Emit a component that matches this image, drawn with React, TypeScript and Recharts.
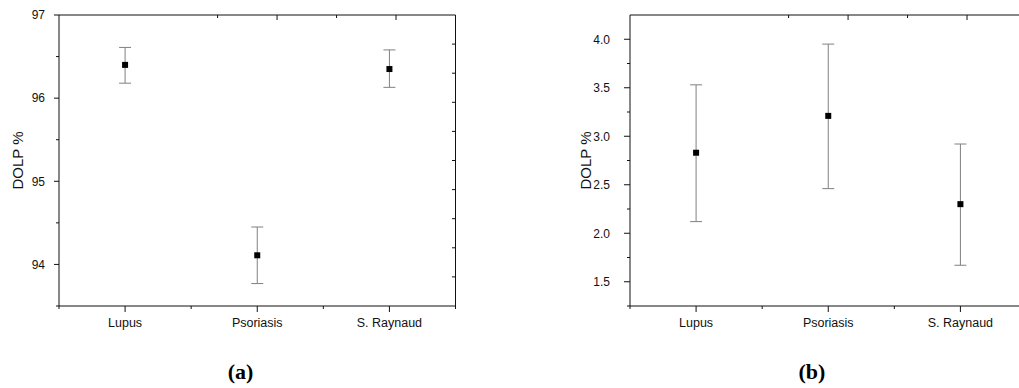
import React from 'react';
import { ComposedChart, Scatter, XAxis, YAxis, ErrorBar } from 'recharts';

// ---------- data ----------
const categories = ['Lupus', 'Psoriasis', 'S. Raynaud'];
const categoryPositions = [1, 2, 3];

// (a)
const meanA = [96.4, 94.11, 96.35];
const upperA = [96.61, 94.45, 96.58];
const lowerA = [96.18, 93.77, 96.13];
const yTicksA = [93.5, 94, 94.5, 95, 95.5, 96, 96.5, 97];
const yMajorA = [94, 95, 96, 97];
const yDomainA: [number, number] = [93.5, 97];
const rightTicksA = [96.65, 96.3, 95.95, 95.6, 95.25, 94.9, 94.55, 94.2, 93.85];

// (b)
const meanB = [2.83, 3.21, 2.3];
const upperB = [3.53, 3.95, 2.92];
const lowerB = [2.12, 2.46, 1.67];
const yTicksB = [1.25, 1.5, 1.75, 2.0, 2.25, 2.5, 2.75, 3.0, 3.25, 3.5, 3.75, 4.0];
const yMajorB = [1.5, 2.0, 2.5, 3.0, 3.5, 4.0];
const yDomainB: [number, number] = [1.25, 4.25];
const rightTicksB: number[] = [];

const xTicks = [0.5, 1, 1.5, 2, 2.5, 3, 3.5];
const topTicks = [0.8, 1.1, 1.4, 1.7, 2.0, 2.3, 2.6, 2.9, 3.2];
const topMajor = [1.1, 1.7, 2.3, 2.9];

const FONT = '"Liberation Sans", Arial, sans-serif';
const AXIS = '#111';

const buildRows = (mean: number[], up: number[], lo: number[]) =>
  categoryPositions.map((x, i) => ({
    x,
    y: mean[i],
    err: [+(mean[i] - lo[i]).toFixed(4), +(up[i] - mean[i]).toFixed(4)],
  }));

const near = (a: number, list: number[]) => list.some((v) => Math.abs(v - a) < 1e-6);

const BottomTick = (props: any) => {
  const { x, y, payload } = props;
  const v = payload.value;
  const idx = categoryPositions.findIndex((c) => Math.abs(c - v) < 1e-6);
  const major = idx >= 0;
  return (
    <g>
      <line x1={x} x2={x} y1={y} y2={y + (major ? 6 : 3)} stroke={AXIS} strokeWidth={1} />
      {major && (
        <text x={x} y={y + 21} textAnchor="middle" fontFamily={FONT} fontSize={12.5} fill="#111">
          {categories[idx]}
        </text>
      )}
    </g>
  );
};

const TopTick = (props: any) => {
  const { x, y, payload } = props;
  const major = near(payload.value, topMajor);
  return <line x1={x} x2={x} y1={y} y2={y + (major ? 5 : 3)} stroke={AXIS} strokeWidth={1} />;
};

const makeLeftTick = (majors: number[], gap: number, majorLen: number, fmt: (v: number) => string) => (props: any) => {
  const { x, y, payload } = props;
  const v = payload.value;
  const major = near(v, majors);
  return (
    <g>
      <line x1={x - (major ? majorLen : 3)} x2={x} y1={y} y2={y} stroke={AXIS} strokeWidth={1} />
      {major && (
        <text x={x - gap} y={y + 4.3} textAnchor="end" fontFamily={FONT} fontSize={12} fill="#111">
          {fmt(v)}
        </text>
      )}
    </g>
  );
};

const RightTick = (props: any) => {
  const { x, y } = props;
  return <line x1={x - 3.5} x2={x} y1={y} y2={y} stroke={AXIS} strokeWidth={1} />;
};

const SquareDot = (props: any) => {
  const { cx, cy } = props;
  if (cx == null || cy == null) return null;
  return <rect x={cx - 3} y={cy - 3} width={6} height={6} fill="#000" />;
};

const makeYLabel = (cxOffset: number) => (props: any) => {
  const vb = props.viewBox || {};
  const cx = cxOffset;
  const cy = (vb.y ?? 0) + (vb.height ?? 0) / 2;
  return (
    <text
      x={cx}
      y={cy}
      transform={`rotate(-90 ${cx} ${cy})`}
      textAnchor="middle"
      dominantBaseline="central"
      fontFamily={FONT}
      fontSize={15}
      fill="#111"
    >
      DOLP %
    </text>
  );
};

type PanelProps = {
  rows: any[];
  domain: [number, number];
  ticks: number[];
  majors: number[];
  rightTicks: number[];
  fmt: (v: number) => string;
  gap: number;
  majorLen: number;
  labelX: number;
};

const Panel = ({ rows, domain, ticks, majors, rightTicks, fmt, gap, majorLen, labelX }: PanelProps) => (
  <ComposedChart width={509} height={340} data={rows} margin={{ top: 0, right: 0, bottom: 0, left: 0 }}>
    <XAxis
      xAxisId="bottom"
      dataKey="x"
      type="number"
      domain={[0.5, 3.5]}
      ticks={xTicks}
      interval={0}
      height={34}
      tickSize={0}
      tickMargin={0}
      tickLine={false}
      axisLine={{ stroke: AXIS, strokeWidth: 1 }}
      tick={<BottomTick />}
      allowDataOverflow
    />
    <XAxis
      xAxisId="top"
      orientation="top"
      type="number"
      domain={[0.5, 3.5]}
      ticks={topTicks}
      interval={0}
      height={15}
      tickSize={0}
      tickMargin={0}
      tickLine={false}
      axisLine={{ stroke: AXIS, strokeWidth: 1 }}
      tick={<TopTick />}
      allowDataOverflow
    />
    <YAxis
      yAxisId="left"
      type="number"
      domain={domain}
      ticks={ticks}
      interval={0}
      width={59}
      tickSize={0}
      tickMargin={0}
      tickLine={false}
      axisLine={{ stroke: AXIS, strokeWidth: 1 }}
      tick={makeLeftTick(majors, gap, majorLen, fmt)}
      label={{ content: makeYLabel(labelX) } as any}
      allowDataOverflow
    />
    <YAxis
      yAxisId="right"
      orientation="right"
      type="number"
      domain={domain}
      ticks={rightTicks}
      interval={0}
      width={53.5}
      tickSize={0}
      tickMargin={0}
      tickLine={false}
      axisLine={{ stroke: AXIS, strokeWidth: 1 }}
      tick={<RightTick />}
      allowDataOverflow
    />
    <Scatter
      xAxisId="bottom"
      yAxisId="left"
      dataKey="y"
      fill="#000"
      shape={<SquareDot />}
      isAnimationActive={false}
    >
      <ErrorBar dataKey="err" direction="y" width={6} stroke="#808080" strokeWidth={1} isAnimationActive={false} />
    </Scatter>
  </ComposedChart>
);

export default function App() {
  const rowsA = buildRows(meanA, upperA, lowerA);
  const rowsB = buildRows(meanB, upperB, lowerB);
  return (
    <div
      style={{
        position: 'absolute',
        left: 0,
        top: 0,
        width: 1019,
        height: 388,
        overflow: 'hidden',
        background: '#fff',
      }}
    >
      <div style={{ position: 'absolute', left: 0, top: 0 }}>
        <Panel
          rows={rowsA}
          domain={yDomainA}
          ticks={yTicksA}
          majors={yMajorA}
          rightTicks={rightTicksA}
          fmt={(v) => String(v)}
          gap={14}
          majorLen={5}
          labelX={17}
        />
      </div>
      <div style={{ position: 'absolute', left: 571, top: 0 }}>
        <Panel
          rows={rowsB}
          domain={yDomainB}
          ticks={yTicksB}
          majors={yMajorB}
          rightTicks={rightTicksB}
          fmt={(v) => v.toFixed(1)}
          gap={20}
          majorLen={6}
          labelX={14}
        />
      </div>
      <svg style={{ position: 'absolute', left: 0, top: 0 }} width={1019} height={388} pointerEvents="none">
        <text x={240.5} y={379} textAnchor="middle" fontFamily='"Liberation Serif", "Times New Roman", serif' fontWeight="bold" fontSize={22} fill="#000">
          (a)
        </text>
        <text x={812} y={379} textAnchor="middle" fontFamily='"Liberation Serif", "Times New Roman", serif' fontWeight="bold" fontSize={22} fill="#000">
          (b)
        </text>
      </svg>
    </div>
  );
}
